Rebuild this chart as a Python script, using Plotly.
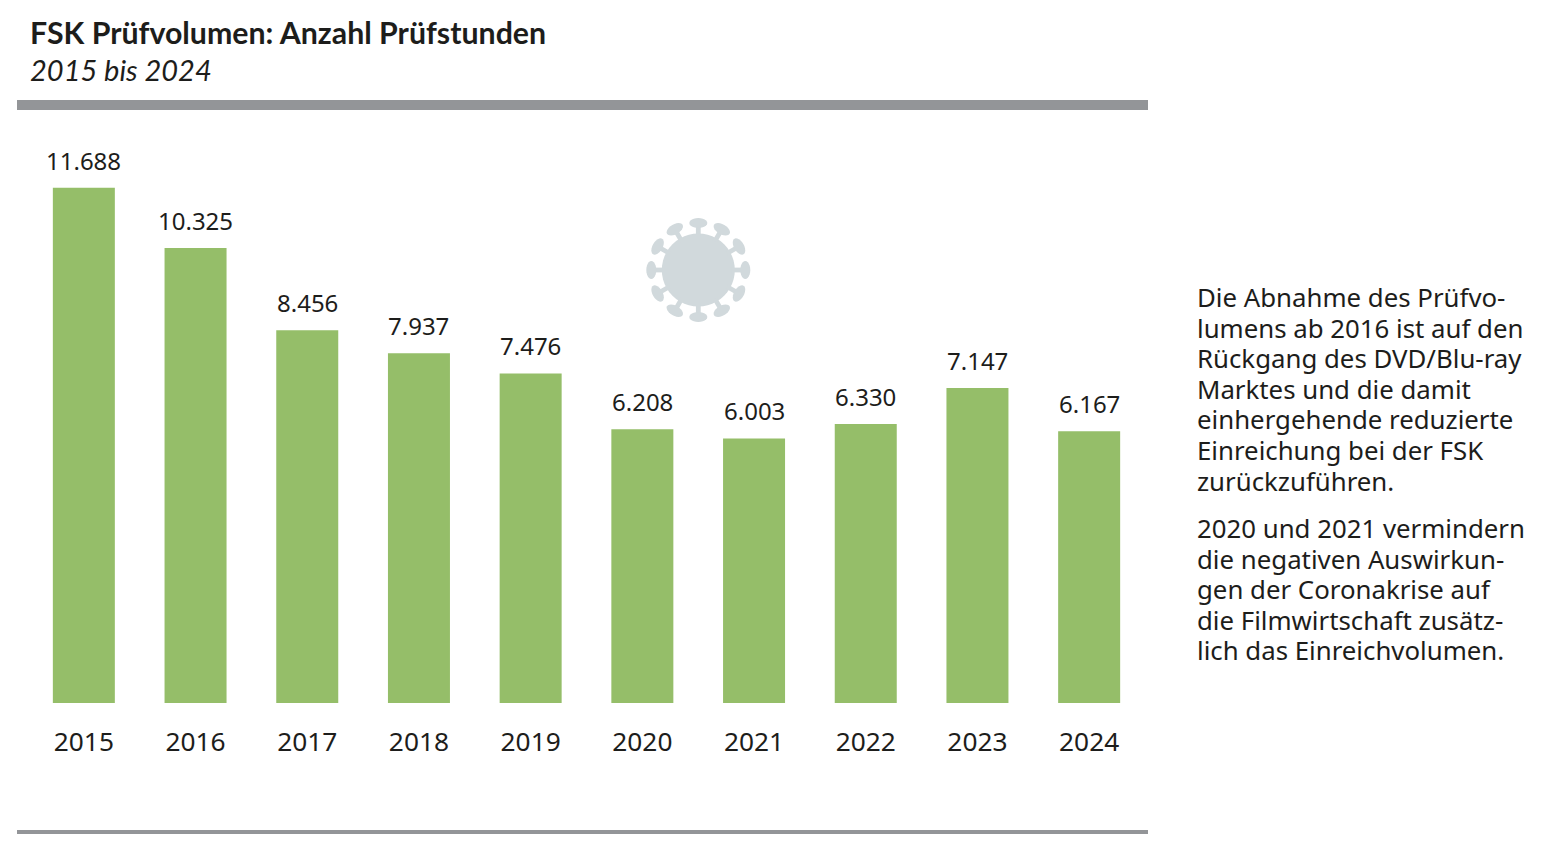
import math
import plotly.graph_objects as go

WIDTH = 1564
HEIGHT = 857
M_L, M_R, M_T, M_B = 28, 419, 130, 154

years = ["2015", "2016", "2017", "2018", "2019", "2020", "2021", "2022", "2023", "2024"]
hours = [11688, 10325, 8456, 7937, 7476, 6208, 6003, 6330, 7147, 6167]

side_text_1 = [
    "Die Abnahme des Prüfvo-",
    "lumens ab 2016 ist auf den",
    "Rückgang des DVD/Blu-ray",
    "Marktes und die damit",
    "einhergehende reduzierte",
    "Einreichung bei der FSK",
    "zurückzuführen.",
]
side_text_2 = [
    "2020 und 2021 vermindern",
    "die negativen Auswirkun-",
    "gen der Coronakrise auf",
    "die Filmwirtschaft zusätz-",
    "lich das Einreichvolumen.",
]

FONT = "Noto Sans"
TITLE_FONT = "Lato"
TEXT = "#1d1d1b"
GREEN = "#95BE69"
RULE = "#939598"
VIRUS = "#D1D9DC"


def px(x):
    return (x - M_L) / (WIDTH - M_L - M_R)


def py(y):
    return 1 - (y - M_T) / (HEIGHT - M_T - M_B)


def label(x, y, text, size, family=FONT):
    return dict(
        xref="paper", yref="paper", x=px(x), y=py(y), text=text, showarrow=False,
        xanchor="left", yanchor="middle", xshift=-2, font=dict(family=family, size=size, color=TEXT),
    )


def to_shape(points):
    path = "M" + " L".join(f"{px(x):.5f},{py(y):.5f}" for x, y in points) + " Z"
    return dict(type="path", xref="paper", yref="paper", path=path, fillcolor=VIRUS, line_width=0)


def virus_shapes(cx, cy):
    # round body, twelve stalks with flat oval heads (separate shapes, shapes fill evenodd)
    body = [(cx + 36.5 * math.cos(t / 48 * 2 * math.pi), cy + 36.5 * math.sin(t / 48 * 2 * math.pi)) for t in range(48)]
    out = [to_shape(body)]
    for k in range(12):
        a = k * math.pi / 6
        c, s = math.cos(a), math.sin(a)
        stalk = [(33, -2.4), (45, -2.4), (45, 2.4), (33, 2.4)]
        out.append(to_shape([(cx + u * c - v * s, cy + u * s + v * c) for u, v in stalk]))
        head = []
        for t in range(24):
            b = t / 24 * 2 * math.pi
            u, v = 47 + 5 * math.cos(b), 9 * math.sin(b)
            head.append((cx + u * c - v * s, cy + u * s + v * c))
        out.append(to_shape(head))
    return out


fig = go.Figure(
    go.Bar(
        x=years, y=hours,
        marker=dict(color=GREEN, line_width=0),
        hovertemplate="%{x}: %{y:,}<extra></extra>",
    )
)

annotations = [
    dict(
        x=i, y=val, xref="x", yref="y", text=f"{val:,}".replace(",", "."), showarrow=False,
        yanchor="bottom", yshift=9, font=dict(family=FONT, size=24, color=TEXT),
    )
    for i, val in enumerate(hours)
]
annotations.append(label(30, 32.5, "<b>FSK Prüfvolumen: Anzahl Prüfstunden</b>", 30.3, TITLE_FONT))
annotations.append(label(30, 69.5, "<i>2015 bis 2024</i>", 29, TITLE_FONT))
for i, line in enumerate(side_text_1):
    annotations.append(label(1197, 297 + i * 30.6, line, 25.8))
for i, line in enumerate(side_text_2):
    annotations.append(label(1197, 528 + i * 30.6, line, 25.8))

shapes = [
    dict(type="rect", xref="paper", yref="paper", x0=px(17), x1=px(1148), y0=py(100), y1=py(110),
         fillcolor=RULE, line_width=0),
    dict(type="rect", xref="paper", yref="paper", x0=px(17), x1=px(1148), y0=py(830), y1=py(834),
         fillcolor=RULE, line_width=0),
] + virus_shapes(698.3, 270)

fig.update_layout(
    width=WIDTH, height=HEIGHT,
    margin=dict(l=M_L, r=M_R, t=M_T, b=M_B),
    paper_bgcolor="white", plot_bgcolor="white",
    bargap=0.445, showlegend=False,
    separators=",.",
    font=dict(family=FONT, color=TEXT),
    annotations=annotations, shapes=shapes,
)
fig.update_xaxes(
    type="category", range=[-0.5, 9.5], showgrid=False, zeroline=False, showline=False,
    ticks="outside", ticklen=15, tickcolor="white", automargin=False,
    tickfont=dict(family=FONT, size=26.3, color=TEXT),
)
fig.update_yaxes(range=[0, 13000], visible=False)

fig.write_html("out.html", post_script="document.body.style.margin='0';", config=dict(displayModeBar=False))
